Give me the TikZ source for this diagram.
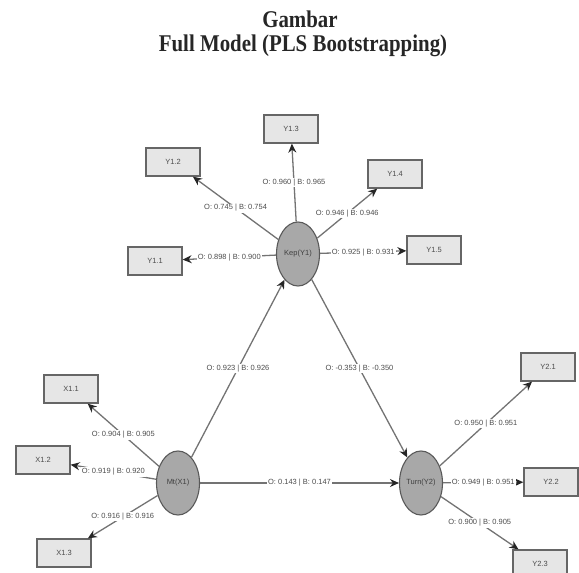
\documentclass[tikz,border=0pt]{standalone}
\usepackage{fontspec}
\setmainfont{Liberation Serif}
\newfontfamily\diagfont{Liberation Sans}
\usepackage{graphicx}
\usepackage{tikz}
\usetikzlibrary{arrows.meta, shapes.geometric}
\definecolor{lvgray}{HTML}{A8A8A8}
\definecolor{boxgray}{HTML}{E6E6E6}
\tikzset{%
	latent/.style={draw=black!65, ellipse, minimum width=43pt, minimum height=64pt,%
		inner sep=0mm, fill=lvgray, line width=1.1pt, text=black!75,%
		font=\diagfont\fontsize{7.5}{8}\selectfont},
	ind/.style={draw=black!60, rectangle, minimum width=54pt, minimum height=28pt,%
		inner sep=0mm, fill=boxgray, line width=1.3pt, text=black!70,%
		font=\diagfont\fontsize{7.5}{8}\selectfont},
	sel/.style={-{Stealth[length=9pt, width=8pt, color=black!85]}, draw=black!55, line width=1.3pt},
	coef/.style={fill=white, inner sep=1pt, text=black!70,%
		font=\diagfont\fontsize{7.5}{8}\selectfont},
	title/.style={font=\bfseries\fontsize{24}{28}\selectfont, text=black!85}
}

\begin{document}
\begin{tikzpicture}[x=1pt, y=-1pt]
	\useasboundingbox (0,0) rectangle (579,573);

	\node[title] (t1) at (300,19) {\scalebox{0.87}[1]{Gambar}};
	\node[title] (t2) at (303,46) {\scalebox{0.87}[1]{Full Model (PLS Bootstrapping)}};

	% latent variables
	\node[latent] (kep) at (298,254) {Kep(Y1)};
	\node[latent] (mt) at (178,483) {Mt(X1)};
	\node[latent] (turn) at (421,483) {Turn(Y2)};

	% indicators
	\node[ind] (y11) at (155,261) {Y1.1};
	\node[ind] (y12) at (173,162) {Y1.2};
	\node[ind] (y13) at (291,129) {Y1.3};
	\node[ind] (y14) at (395,174) {Y1.4};
	\node[ind] (y15) at (434,250) {Y1.5};
	\node[ind] (x11) at (71,389) {X1.1};
	\node[ind] (x12) at (43,460) {X1.2};
	\node[ind] (x13) at (64,553) {X1.3};
	\node[ind] (y21) at (548,367) {Y2.1};
	\node[ind] (y22) at (551,482) {Y2.2};
	\node[ind] (y23) at (540,564) {Y2.3};

	\draw[sel] (kep) to node[coef] {O: 0.898 | B: 0.900} (y11);
	\draw[sel] (kep) to node[coef] {O: 0.745 | B: 0.754} (y12);
	\draw[sel] (kep) to node[coef] {O: 0.960 | B: 0.965} (y13);
	\draw[sel] (kep) to node[coef] {O: 0.946 | B: 0.946} (y14);
	\draw[sel] (kep) to node[coef] {O: 0.925 | B: 0.931} (y15);

	\draw[sel] (mt) to node[coef] {O: 0.904 | B: 0.905} (x11);
	\draw[sel] (mt) to node[coef] {O: 0.919 | B: 0.920} (x12);
	\draw[sel] (mt) to node[coef] {O: 0.916 | B: 0.916} (x13);

	\draw[sel] (turn) to node[coef] {O: 0.950 | B: 0.951} (y21);
	\draw[sel] (turn) to node[coef, pos=0.5] {O: 0.949 | B: 0.951} (y22);
	\draw[sel] (turn) to node[coef] {O: 0.900 | B: 0.905} (y23);

	% structural paths
	\draw[sel] (mt) to node[coef] {O: 0.923 | B: 0.926} (kep);
	\draw[sel] (kep) to node[coef] {O: -0.353 | B: -0.350} (turn);
	\draw[sel] (mt) to node[coef] {O: 0.143 | B: 0.147} (turn);
\end{tikzpicture}
\end{document}
